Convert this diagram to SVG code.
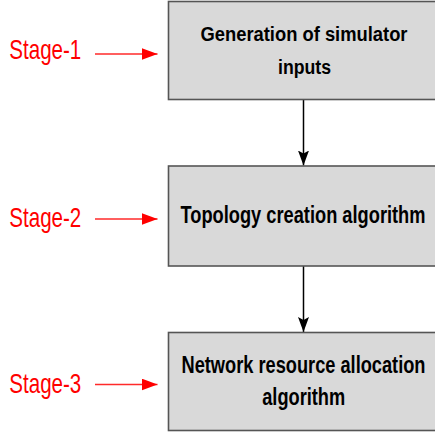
<svg xmlns="http://www.w3.org/2000/svg" width="435" height="437" viewBox="0 0 435 437">
<style>
.box{fill:#d9d9d9;stroke:#555555;stroke-width:1.6}
.t{font-family:"Liberation Sans",Arial,sans-serif;font-weight:bold;fill:#000;text-anchor:middle}
.stage{font-family:"Liberation Sans",Arial,sans-serif;fill:#ff0000;font-size:28px}
.conn{stroke:#000;stroke-width:1.5;fill:none}
.red{stroke:#ff2a2a;stroke-width:1.5;fill:none}
</style>
<defs>
<marker id="ah" markerUnits="userSpaceOnUse" markerWidth="15" markerHeight="11" refX="15" refY="5.5" orient="auto" viewBox="0 0 15 11">
<path d="M0,0 L15,5.5 L0,11 L3,5.5 Z" fill="#000"/>
</marker>
<marker id="rh" markerUnits="userSpaceOnUse" markerWidth="16" markerHeight="12" refX="16" refY="6" orient="auto" viewBox="0 0 16 12">
<path d="M0,0 L16,6 L0,12 Z" fill="#ff0000"/>
</marker>
</defs>
<rect width="435" height="437" fill="#ffffff"/>
<g id="connectors">
<line class="conn" x1="303.5" y1="99.5" x2="303.5" y2="165.5" marker-end="url(#ah)"/>
<line class="conn" x1="303.5" y1="266" x2="303.5" y2="332" marker-end="url(#ah)"/>
<line class="red" x1="95" y1="54" x2="157.5" y2="54" marker-end="url(#rh)"/>
<line class="red" x1="95" y1="219" x2="157.5" y2="219" marker-end="url(#rh)"/>
<line class="red" x1="95" y1="384.5" x2="157.5" y2="384.5" marker-end="url(#rh)"/>
</g>
<g id="node1">
<rect class="box" x="168.5" y="1.5" width="280" height="98"/>
<text class="t" x="304" y="41" font-size="20" textLength="207" lengthAdjust="spacingAndGlyphs">Generation of simulator</text>
<text class="t" x="304.5" y="74" font-size="20" textLength="53" lengthAdjust="spacingAndGlyphs">inputs</text>
</g>
<g id="node2">
<rect class="box" x="168.5" y="166" width="280" height="100"/>
<text class="t" x="303" y="223.3" font-size="23" textLength="245" lengthAdjust="spacingAndGlyphs">Topology creation algorithm</text>
</g>
<g id="node3">
<rect class="box" x="168.5" y="332.5" width="280" height="98"/>
<text class="t" x="303.5" y="373.3" font-size="23" textLength="244" lengthAdjust="spacingAndGlyphs">Network resource allocation</text>
<text class="t" x="303.7" y="405" font-size="23" textLength="83" lengthAdjust="spacingAndGlyphs">algorithm</text>
</g>
<g id="stage1"><text class="stage" x="9.3" y="59.3" textLength="72" lengthAdjust="spacingAndGlyphs">Stage-1</text></g>
<g id="stage2"><text class="stage" x="9.3" y="226.8" textLength="72" lengthAdjust="spacingAndGlyphs">Stage-2</text></g>
<g id="stage3"><text class="stage" x="9.3" y="392.8" textLength="72" lengthAdjust="spacingAndGlyphs">Stage-3</text></g>
</svg>
